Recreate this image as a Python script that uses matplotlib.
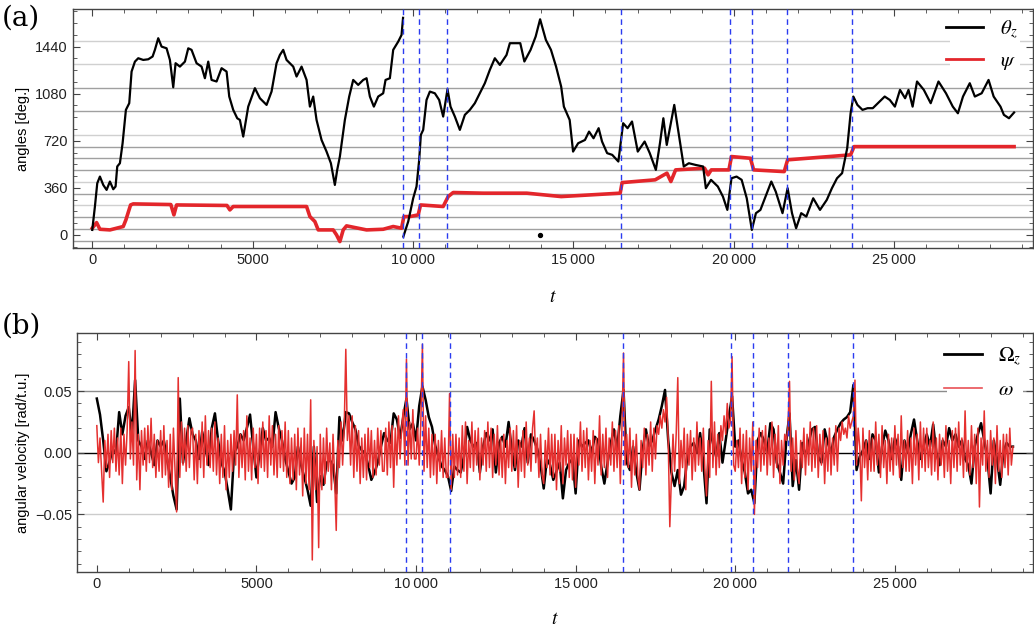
import numpy as np
import matplotlib
matplotlib.use('Agg')
import matplotlib.pyplot as plt
from matplotlib.lines import Line2D
from matplotlib.patches import Rectangle

plt.rcParams['font.family'] = ['Liberation Sans', 'DejaVu Sans']
plt.rcParams['mathtext.fontset'] = 'stix'

# ---- panel (a): angles in degrees ----
theta_t = [0, 83, 156, 239, 343, 447, 551, 655, 727, 779, 862, 946, 1049, 1153, 1226, 1330, 1434,
           1590, 1746, 1881, 1953, 2057, 2161, 2317, 2421, 2525, 2598, 2733, 2889, 2993, 3096, 3252,
           3408, 3512, 3616, 3720, 3876, 4032, 4188, 4271, 4395, 4520, 4603, 4707, 4863, 5071, 5227,
           5435, 5590, 5746, 5850, 5954, 6058, 6266, 6370, 6526, 6682, 6786, 6889, 6993, 7149, 7305,
           7440, 7564, 7637, 7720, 7876, 8011, 8136, 8292, 8448, 8552, 8656, 8780, 8915, 9071, 9144,
           9279, 9383, 9539, 9643, 9690, 9695,
           9700, 9851, 10006, 10110, 10193, 10245, 10318, 10422, 10526, 10681, 10816, 10941, 11076,
           11170, 11305, 11461, 11617, 11773, 11928, 12084, 12240, 12396, 12552, 12708, 12916, 13020,
           13345, 13473, 13666, 13825, 13963, 14143, 14302, 14461, 14620, 14704, 14885, 14991, 15150,
           15362, 15489, 15629, 15788, 15894, 16053, 16212, 16403, 16552, 16690, 16829, 17008, 17222,
           17382, 17572, 17700, 17806, 17912, 18018, 18146, 18283, 18442, 18600, 18812, 19046, 19131,
           19292, 19504, 19663, 19801, 19929, 20088, 20247, 20406, 20565, 20692, 20832, 20991, 21172,
           21310, 21521, 21680, 21817, 21945, 22104, 22263, 22478, 22690, 22902, 23061, 23220, 23379,
           23538, 23644, 23729, 23856, 24015, 24174, 24336, 24495, 24707, 24866, 25025, 25184, 25343,
           25449, 25577, 25715, 25927, 26141, 26384, 26618, 26830, 26989, 27148, 27359, 27518, 27730,
           27945, 28104, 28317, 28423, 28582, 28741]
theta_v = [38, 217, 395, 446, 382, 344, 408, 349, 370, 523, 548, 701, 956, 1007, 1249, 1325, 1351,
           1338, 1343, 1364, 1415, 1504, 1440, 1427, 1338, 1129, 1313, 1287, 1325, 1427, 1415, 1313,
           1287, 1198, 1325, 1185, 1173, 1275, 1249, 1058, 956, 892, 879, 752, 981, 1122, 1045,
           994, 1096, 1313, 1376, 1415, 1338, 1287, 1211, 1287, 1185, 981, 1058, 879, 726, 637,
           548, 382, 497, 599, 879, 1058, 1185, 1147, 1185, 1198, 1058, 981, 1058, 1083, 1185,
           1198, 1415, 1478, 1529, 1660, np.nan,
           -13, 102, 280, 370, 573, 765, 803, 1032, 1096, 1083, 1032, 905, 1114,
           981, 905, 803, 918, 956, 1007, 1083, 1160, 1262, 1351, 1300, 1376, 1466,
           1466, 1326, 1415, 1517, 1649, 1491, 1415, 1287, 1134, 981, 879, 637, 701,
           726, 790, 739, 816, 714, 625, 612, 561, 854, 816, 867, 637, 714,
           625, 497, 701, 892, 688, 828, 994, 777, 523, 548, 535, 523, 357,
           421, 370, 293, 191, 433, 446, 421, 280, 38, 166, 191, 293, 408,
           331, 166, 357, 166, 51, 166, 140, 280, 191, 268, 357, 433, 472,
           663, 930, 1058, 994, 956, 969, 969, 1007, 1058, 1032, 981, 1109, 1045,
           1109, 981, 1173, 1109, 1007, 1173, 1083, 981, 930, 1058, 1160, 1058, 1083,
           1185, 1058, 981, 918, 892, 936]

psi_t = [0, 135, 239, 551, 966, 1049, 1195, 1278, 2450, 2546, 2629, 4200, 4291, 4395, 6682, 6786,
         6941, 7045, 7513, 7616, 7720, 7824, 7928, 8552, 9071, 9383, 9643, 9716, 9903, 10163, 10235,
         10941, 11097, 11253, 12188, 13548, 14620, 16460, 16520, 17550, 17918, 18040, 18188, 19090,
         19200, 19300, 19850, 19929, 20521, 20620, 21574, 21680, 23644, 23750, 28741]
psi_v = [51, 94, 43, 38, 64, 115, 229, 237, 232, 153, 229, 225, 191, 217, 217, 140,
         102, 38, 38, 0, -51, 38, 69, 38, 43, 64, 51, 140, 140, 153, 229,
         217, 293, 324, 319, 319, 293, 319, 400, 421, 472, 408, 497, 510,
         459, 497, 497, 599, 586, 497, 484, 574, 612, 675, 675]

dot_t = [13960]
dot_v = [0]

# ---- panel (b): angular velocities in units of 1e-3 rad/t.u. ----
# Omega_z: one value per 100 t.u.
omega_z_t = list(range(0, 28701, 100))
omega_z = [44, 31, 10, -15, -7, 3, 0, 33, 15, 30,
           37, 15, 59, 10, 5, -5, 10, 0, -10, 10,
           5, 10, -5, -20, -35, -46, 44, -8, 10, 28,
           15, 10, -5, 17, 5, -10, 20, 32, 10, -8,
           -15, -30, -46, 0, 5, 15, 10, 20, 31, 5,
           -20, 0, 20, 10, 12, 5, 33, 20, 10, -5,
           -15, -25, -20, 5, -10, -20, -30, -43, 5, -40,
           -19, -26, -8, -6, -10, -33, 29, 10, 33, 32,
           25, 19, 6, 2, 0, -10, -22, -16, -8, 5,
           16, 10, 8, 32, 27, 12, 29, 44, 19, 24,
           10, 38, 54, 43, 29, 21, 6, -3, -11, -14,
           -19, -31, -11, -14, -16, -3, 21, 10, 5, 8,
           -16, 5, 16, 10, 19, -16, 8, 13, 5, 25,
           2, -14, 10, 5, 20, -8, 15, 10, 3, -10,
           -29, -5, -10, -22, -15, -8, -37, -14, -8, -5,
           -33, 10, 5, 8, 10, 0, 13, 10, -11, -25,
           -8, 8, 19, 3, 30, 51, -8, -14, 5, -16,
           -30, 3, 19, 5, 10, 19, 27, 38, 51, 10,
           -16, -27, -14, -34, -27, -3, 5, 8, 0, 16,
           -8, -41, 19, 8, -3, 16, -8, 10, 29, 46,
           5, 10, -6, -16, -33, -30, -41, 10, 16, 10,
           0, 24, 19, -8, -16, -25, 10, 32, -27, -6,
           -30, 8, -3, 8, 19, 21, -3, -8, 19, 8,
           0, 13, 19, 24, 27, 29, 33, 55, -14, -3,
           2, 10, -5, 15, 10, -16, 5, 18, 10, -5,
           12, 5, -22, 10, 0, 15, 27, 10, -5, 5,
           15, 5, 23, 0, -10, 10, 5, 20, 10, 15,
           5, 10, -5, -10, -25, 5, 15, 24, 10, -5,
           -33, 10, -5, -26, 0, 8, 5, 5]

# omega: one value per 50 t.u. (one row = 1000 t.u.)
omega_t = list(range(0, 28701, 50))
omega = [22, -8, 12, -15, -40, 10, -12, 15, -20, 18, -8, 20, -15, 12, -18, 20, -25, 15, -10, 18,
         74, -5, 25, -10, 83, -22, 15, -30, 18, -10, 20, -15, 22, -8, 28, -12, 15, -20, 10, -15,
         18, -20, 22, -18, 10, -28, 15, -30, 20, -15, -48, 61, -20, 25, -10, 20, -15, 22, -12, 18,
         20, -22, 15, -25, 18, -12, 25, -20, 30, -10, 18, -12, 20, -15, 25, -18, 12, -25, 15, -20,
         22, -30, 10, -20, 15, -15, 18, -10, 47, -20, 15, -12, 18, -22, 30, -15, 12, -22, 20, -12,
         15, -25, 20, -12, 25, -15, 18, -20, 30, -10, 22, -18, 15, -20, 22, -12, 18, -15, 25, -20,
         18, -25, 12, -22, 15, -30, 20, -18, 12, -35, 20, -25, 15, -30, 43, -87, 10, -30, 5, -77,
         15, -30, 12, -25, 20, -15, 8, -30, 15, -20, -63, 10, -12, 25, -10, 20, 84, 10, 30, -10,
         30, -20, 22, -15, 18, -25, 12, -20, 15, -22, 20, -12, 18, -20, 10, -18, 20, -10, 18, -15,
         -15, 20, -18, 25, -12, 22, -28, 20, -10, 30, -5, 20, 35, -10, 76, -10, 25, -5, 35, -5,
         -5, 20, -10, 25, 88, -15, 30, -12, 20, -20, 15, -18, 15, -25, 10, -15, 18, -20, 12, -20,
         -20, 48, -30, 15, -20, 15, -18, 12, -20, 22, -15, 25, -25, 10, -12, 25, -15, 18, -10, 20,
         -22, 12, -10, 18, -15, 25, -12, 20, -20, 15, -10, 22, -18, 12, -20, 15, -25, 10, -12, 20,
         -15, 18, -12, 22, -28, 10, -15, 18, -20, 25, -10, 12, -15, 20, 34, -8, 12, -20, 15, -18,
         -25, 10, -12, 20, -18, 15, -20, 15, -30, 10, -15, 22, -25, 12, -10, 18, -20, 15, -22, 15,
         -28, 12, -10, 25, -15, 18, -12, 20, -22, 10, -15, 18, -25, 12, -10, 30, -18, 15, -12, 20,
         -20, 12, -10, 25, -15, 18, -12, 22, -25, 20, 81, -10, 15, -12, 20, -28, 10, -18, 15, -20,
         -30, 10, -12, 20, -18, 15, -10, 25, -15, 20, -5, 22, 15, 30, 20, 35, 25, 45, 10, -60,
         -20, 15, -15, 15, 61, -25, 10, -12, 20, -30, 15, -10, 18, -22, 12, -15, 25, -10, 12, -15,
         20, -15, -35, 10, -20, 58, -12, 25, -18, 15, -12, 22, 10, 30, 15, 40, 20, 25, 78, -10,
         -15, 10, -12, 20, -25, 15, -20, 18, -30, 12, -15, 25, -50, 10, -12, 20, -15, 18, -10, 22,
         -18, 12, -10, 25, -20, 15, -12, 22, -25, 10, -10, 15, 10, 20, 58, -15, 12, -22, 18, -15,
         -25, 10, -12, 20, -18, 15, -10, 25, -15, 20, -12, 22, -20, 15, -10, 18, -25, 12, -15, 20,
         -18, 12, -10, 22, -15, 20, 10, 25, 15, 20, 12, 30, 20, 25, 30, 59, -10, 20, 5, -39,
         20, -12, 10, -22, 18, -15, 12, -15, 25, -10, 15, -20, 22, -12, 10, -25, 15, -15, 12, -18,
         22, -10, 15, -20, 30, -12, 10, -15, 18, -15, 12, -25, 20, -10, 15, -22, 25, -12, 20, -15,
         20, -12, 10, -18, 25, -15, 12, -22, 15, -10, 12, -20, 22, -15, 10, -25, 18, -12, 20, -15,
         25, -10, 12, -20, 34, -15, 10, -18, 22, -12, 15, -25, 20, -44, 12, -10, 34, -15, 10, -20,
         18, -10, 12, -25, 22, -15, 10, -20, 15, -12, 15, -18, 20, -10, 5]

events = [9680, 10190, 11050, 16490, 19880, 20560, 21650, 23700]

grid_dark = [-45, 45, 135, 315, 495, 585, 675, 945, 1125]
grid_light = [225, 405, 765, 1305, 1485]

xticks = [0, 5000, 10000, 15000, 20000, 25000]
xticklabels = ['0', '5000', '10\u2009000', '15\u2009000', '20\u2009000', '25\u2009000']

vel_scale = 1e-3
red = '#e3262b'


def frame(ax):
    for s in ax.spines.values():
        s.set_color('#444444')
        s.set_linewidth(1.0)
    ax.tick_params(which='both', direction='in', top=True, right=True, colors='#444444',
                   labelcolor='#222222', labelsize=10.5)
    ax.tick_params(which='major', length=5, width=0.8)
    ax.tick_params(which='minor', length=3, width=0.6)
    ax.set_xticks(xticks)
    ax.set_xticklabels(xticklabels)
    ax.set_xticks(np.arange(0, 29001, 1000), minor=True)
    ax.set_xlim(-610, 29320)


fig = plt.figure(figsize=(10.34, 6.30), dpi=100)
ax1 = fig.add_axes([0.0703, 0.606, 0.9284, 0.3794])
ax2 = fig.add_axes([0.0748, 0.0916, 0.924, 0.3794])

# panel (a)
for g in grid_dark:
    ax1.axhline(g, color='#a0a0a0', lw=1.0, zorder=0)
for g in grid_light:
    ax1.axhline(g, color='#d0d0d0', lw=1.0, zorder=0)
ax1.add_patch(Rectangle((0.914, 0.72), 0.073, 0.28, transform=ax1.transAxes,
                        facecolor='white', edgecolor='none', zorder=0.5))
ax1.plot(psi_t, psi_v, color=red, lw=2.6, zorder=1, solid_joinstyle='round')
ax1.plot(theta_t, theta_v, color='black', lw=1.6, zorder=2)
ax1.scatter(dot_t, dot_v, s=8, color='black', zorder=2)
for e in events:
    ax1.axvline(e, color='#2b3cf0', lw=1.0, ls=(0, (4, 3)), zorder=3)
frame(ax1)
ax1.set_yticks([0, 360, 720, 1080, 1440])
ax1.set_yticks(np.arange(-90, 1730, 90), minor=True)
ax1.set_ylim(-102, 1726)
ax1.set_ylabel('angles [deg.]', fontsize=10.5, labelpad=4)
ax1.set_xlabel('$t$', fontsize=14, labelpad=16)
h1 = [Line2D([], [], color='black', lw=2), Line2D([], [], color=red, lw=2)]
ax1.legend(h1, [r'$\theta_z$', r'$\psi$'], loc='center', bbox_to_anchor=(0.947, 0.85),
           frameon=False, fontsize=15, handlelength=1.8, labelspacing=0.5)
fig.text(0.002, 0.972, '(a)', fontsize=20, family='DejaVu Serif', va='center')

# panel (b)
ax2.axhline(0.05, color='#8c8c8c', lw=1.0, zorder=0)
ax2.axhline(-0.05, color='#cccccc', lw=1.0, zorder=0)
ax2.axhline(0.0, color='black', lw=1.0, zorder=0)
ax2.add_patch(Rectangle((0.910, 0.72), 0.08, 0.27, transform=ax2.transAxes,
                        facecolor='white', edgecolor='none', zorder=0.5))
ax2.plot(omega_z_t, np.array(omega_z) * vel_scale, color='black', lw=1.8, zorder=1)
ax2.plot(omega_t, np.array(omega) * vel_scale, color='#e5302f', lw=1.1, zorder=2)
for e in events:
    ax2.axvline(e, color='#2b3cf0', lw=1.0, ls=(0, (4, 3)), zorder=3)
frame(ax2)
ax2.set_yticks([-0.05, 0.0, 0.05])
ax2.set_yticklabels(['\u22120.05', '0.00', '0.05'])
ax2.set_yticks(np.arange(-0.09, 0.0951, 0.01), minor=True)
ax2.set_ylim(-0.097, 0.097)
ax2.set_ylabel('angular velocity [rad/t.u.]', fontsize=10.5, labelpad=4)
ax2.set_xlabel('$t$', fontsize=14, labelpad=14.5)
h2 = [Line2D([], [], color='black', lw=2), Line2D([], [], color=red, lw=1.2, alpha=0.8)]
ax2.legend(h2, [r'$\Omega_z$', r'$\omega$'], loc='center', bbox_to_anchor=(0.948, 0.838),
           frameon=False, fontsize=15, handlelength=1.8, labelspacing=0.6)
fig.text(0.002, 0.483, '(b)', fontsize=20, family='DejaVu Serif', va='center')

fig.savefig('out.png', dpi=100)
